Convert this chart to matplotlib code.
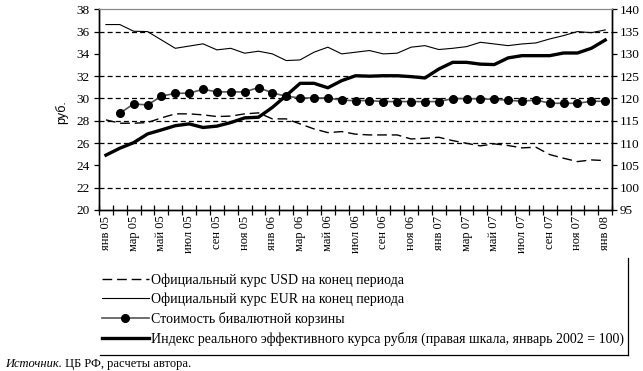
import matplotlib
matplotlib.use('Agg')
import matplotlib.pyplot as plt
import numpy as np
from matplotlib.lines import Line2D

plt.rcParams['font.family'] = ['Liberation Serif', 'DejaVu Serif']

# месяцы янв 2005 - янв 2008
tick_labels = ['янв 05', 'мар 05', 'май 05', 'июл 05', 'сен 05', 'ноя 05',
               'янв 06', 'мар 06', 'май 06', 'июл 06', 'сен 06', 'ноя 06',
               'янв 07', 'мар 07', 'май 07', 'июл 07', 'сен 07', 'ноя 07',
               'янв 08']

usd = [28.08, 27.78, 27.78, 27.84, 28.26, 28.62, 28.62, 28.53, 28.38, 28.42,
       28.62, 28.71, 28.17, 28.17, 27.72, 27.27, 26.94, 27.03, 26.80, 26.73,
       26.73, 26.73, 26.37, 26.43, 26.52, 26.22, 25.98, 25.75, 25.93, 25.78,
       25.57, 25.63, 24.97, 24.64, 24.34, 24.49, 24.43]
eur = [36.63, 36.63, 36.03, 36.00, 35.25, 34.50, 34.70, 34.90, 34.36, 34.50,
       34.06, 34.24, 34.00, 33.40, 33.46, 34.15, 34.60, 34.00, 34.15, 34.30,
       34.00, 34.06, 34.60, 34.74, 34.39, 34.50, 34.65, 35.04, 34.89, 34.74,
       34.89, 34.98, 35.34, 35.64, 36.00, 35.90, 36.15]
basket = [np.nan, 28.68, 29.51, 29.42, 30.20, 30.47, 30.47, 30.83, 30.59, 30.59,
          30.59, 30.98, 30.50, 30.20, 30.05, 30.05, 30.05, 29.84, 29.81, 29.81,
          29.72, 29.72, 29.72, 29.72, 29.72, 29.99, 29.99, 29.96, 29.93, 29.84,
          29.75, 29.87, 29.57, 29.57, 29.57, 29.75, 29.75]
# индекс реального эффективного курса (правая шкала)
reer = [107.3, 108.85, 110.1, 112.05, 112.95, 113.9, 114.3, 113.5, 113.8, 114.6,
        115.65, 115.8, 118.0, 120.65, 123.4, 123.4, 122.4, 124.0, 125.1, 125.0,
        125.1, 125.1, 124.9, 124.6, 126.6, 128.1, 128.1, 127.7, 127.6, 129.1,
        129.6, 129.6, 129.6, 130.2, 130.2, 131.25, 133.1]

# пунктирные линии сетки, видимые на исходном рисунке
grid_levels = [22, 26, 28, 30, 32, 36]

x = np.arange(len(usd))

fig = plt.figure(figsize=(6.43, 3.71), dpi=100)
ax = fig.add_axes([0.154, 0.434, 0.798, 0.541])
ax2 = ax.twinx()

for v in grid_levels:
    ax.axhline(v, color='black', lw=0.9, dashes=(4, 2.5), zorder=1)

l_usd, = ax.plot(x, usd, color='black', lw=1.0, dashes=(7, 3.5), zorder=3)
l_eur, = ax.plot(x, eur, color='black', lw=0.8, zorder=3)
l_bas, = ax.plot(x, basket, color='#555555', lw=1.2, marker='o', ms=5.5,
                 mfc='black', mec='black', zorder=4)
l_reer, = ax2.plot(x, reer, color='black', lw=2.4, zorder=3)

ax.set_xlim(-0.5, len(x) - 0.5)
ax.set_ylim(20, 38)
ax2.set_ylim(95, 140)
ax.set_yticks(range(20, 39, 2))
ax2.set_yticks(range(95, 141, 5))

ax.set_xticks(np.arange(-0.5, len(x), 1.0))
ax.set_xticklabels([])
ax.set_xticks(np.arange(0, len(x), 2), minor=True)
ax.set_xticklabels(tick_labels, minor=True, rotation=90, fontsize=9)
ax.tick_params(axis='x', which='major', direction='inout', length=7, width=0.9)
ax.tick_params(axis='x', which='minor', length=0, pad=4)
ax.tick_params(axis='y', direction='out', length=3.5, width=0.9, labelsize=9.5, pad=3)
ax2.tick_params(axis='y', direction='out', length=3.5, width=0.9, labelsize=9.5, pad=2)

for a in (ax, ax2):
    a.spines['top'].set_color('#888888')
    a.spines['top'].set_linewidth(0.8)
    a.spines['left'].set_linewidth(1.0)
    a.spines['right'].set_linewidth(1.0)
    a.spines['bottom'].set_linewidth(1.0)

ax.set_ylabel('руб.', family=['Liberation Sans', 'DejaVu Sans'], fontsize=9)
ax.yaxis.set_label_coords(-0.06, 0.49)

handles = [l_usd, l_eur, l_bas, l_reer]
labels = ['Официальный курс USD на конец периода',
          'Официальный курс EUR на конец периода',
          'Стоимость бивалютной корзины',
          'Индекс реального эффективного курса рубля (правая шкала, январь 2002 = 100)']
fig.legend(handles, labels, loc='upper left', bbox_to_anchor=(0.158, 0.263),
           frameon=False, fontsize=10, handlelength=3.4, handletextpad=0.15,
           labelspacing=0.41, borderpad=0, borderaxespad=0)

# рамка легенды (правая и нижняя стороны)
fig.add_artist(Line2D([0.9767, 0.9767], [0.3046, 0.0431], color='black', lw=0.9))
fig.add_artist(Line2D([0.1555, 0.9767], [0.0431, 0.0431], color='black', lw=0.9))

t1 = fig.text(0.008, 0.019, 'Источник.', fontsize=9, style='italic', va='center')
ax.annotate(' ЦБ РФ, расчеты автора.', xy=(1, 0.5), xycoords=t1, va='center',
            ha='left', fontsize=9, annotation_clip=False)

plt.savefig('out.png', dpi=100)
